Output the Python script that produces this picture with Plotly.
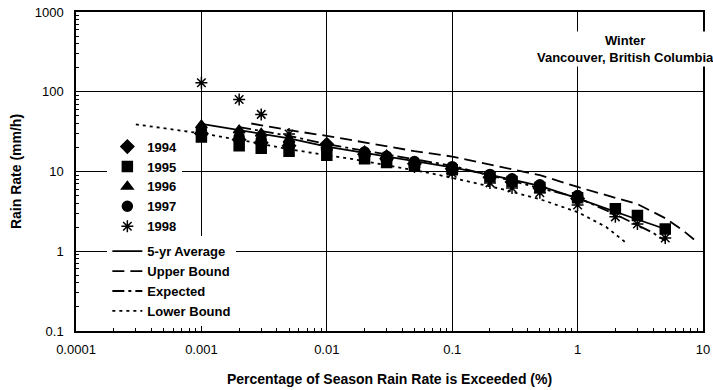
import plotly.graph_objects as go

# percentage of season exceeded (%)
pct = [0.001, 0.002, 0.003, 0.005, 0.01, 0.02, 0.03, 0.05, 0.1, 0.2, 0.3, 0.5, 1, 2, 3, 5]

# yearly rain rates (mm/h)
y1994 = [30, 25, 23, 21, 22, 16.5, 14.5, 12.5, 10.8, 8.5, 7.4, 6.2, 4.6]
y1995 = [27, 21, 19.5, 18, 16, 14.5, 13, 11.8, 10.5, 8.6, 7.5, 6.3, 4.7, 3.4, 2.8, 1.9]
y1996 = [38, 33, 30, 25, 21, 18, 16, 13, 11, 8.8, 7.8, 6.4, 4.8]
y1997 = [33, 27, 25, 22, 19, 17.5, 15.5, 13.3, 11.5, 9.2, 8.1, 6.8, 5.0]
y1998 = [130, 80, 52, 29.6, 18.6, 15.4, 13.7, 11.4, 9.5, 7.2, 6.2, 5.4, 3.8, 2.7, 2.2, 1.47]

avg = [39.5, 33, 29.5, 26, 20.5, 17.1, 15.3, 13.5, 11.3, 9.1, 7.9, 6.6, 4.6, 3.1, 2.5, 1.9]

upper_x = [0.0025, 0.005, 0.01, 0.03, 0.05, 0.1, 0.5, 1, 3, 5, 7, 9]
upper = [40, 33, 28, 21, 18, 15.4, 9, 6.4, 3.9, 2.6, 1.8, 1.3]

expected_x = [0.002, 0.005, 0.01, 0.1, 1, 2, 4, 5]
expected = [36, 28, 22, 11.8, 4.7, 2.9, 1.7, 1.35]

lower_x = [0.0003, 0.0005, 0.001, 0.002, 0.005, 0.0156, 0.035, 0.07, 0.12, 0.24, 0.5, 1, 1.7, 2.4]
lower = [39, 35, 30, 25, 19, 14.4, 11.4, 9.4, 7.8, 6.1, 4.5, 3.1, 2.0, 1.3]

font = "Liberation Sans, Arial, sans-serif"

fig = go.Figure()

years = [("1994", y1994, "diamond"), ("1995", y1995, "square"), ("1996", y1996, "triangle-up"),
         ("1997", y1997, "circle"), ("1998", y1998, "asterisk-open")]
for name, vals, sym in years:
    fig.add_trace(go.Scatter(
        x=pct[:len(vals)], y=vals, mode="markers", name=name, legend="legend",
        marker=dict(symbol=sym, size=10, color="black", line=dict(color="black", width=1.5))
    ))

lines = [("5-yr Average", pct, avg, "solid"),
         ("Upper Bound", upper_x, upper, "12px,6px"),
         ("Expected", expected_x, expected, "12px,4px,3px,4px"),
         ("Lower Bound", lower_x, lower, "3px,4px")]
for name, xs, ys, dash in lines:
    fig.add_trace(go.Scatter(
        x=xs, y=ys, mode="lines", name=name, legend="legend2",
        line=dict(color="black", width=1.8, dash=dash)
    ))

axis_common = dict(
    type="log", showline=True, linecolor="black", linewidth=1.5, mirror=True,
    showgrid=True, gridcolor="black", gridwidth=1, automargin=False,
    ticks="inside", ticklen=5, tickcolor="black",
    minor=dict(ticks="inside", ticklen=3, tickcolor="black", showgrid=False, dtick="D1"),
    tickfont=dict(family=font, size=13, color="black"),
    zeroline=False,
)

fig.update_xaxes(
    range=[-4, 1],
    tickvals=[0.0001, 0.001, 0.01, 0.1, 1, 10],
    ticktext=["0.0001", "0.001", "0.01", "0.1", "1", "10"],
    ticklabelstandoff=6,
    title=dict(text="<b>Percentage of Season Rain Rate is Exceeded (%)</b>",
               font=dict(family=font, size=14, color="black"), standoff=18),
    **axis_common
)
fig.update_yaxes(
    range=[-1, 3],
    tickvals=[0.1, 1, 10, 100, 1000],
    ticktext=["0.1", "1", "10", "100", "1000"],
    ticklabelstandoff=8,
    title=dict(text="<b>Rain Rate (mm/h)</b>",
               font=dict(family=font, size=14, color="black"), standoff=10),
    **axis_common
)

fig.add_annotation(
    x=0.876, y=0.94, xref="paper", yref="paper", xanchor="center", yanchor="top",
    text="<b>Winter</b><br><b>Vancouver, British Columbia</b>",
    showarrow=False, bgcolor="white", align="center",
    font=dict(family=font, size=13, color="black")
)

legend_style = dict(bgcolor="white", borderwidth=0, xanchor="left", yanchor="top",
                    font=dict(family=font, size=13, color="black", weight="bold"))
fig.update_layout(
    width=713, height=390,
    margin=dict(l=76, r=10, t=12, b=59),
    plot_bgcolor="white", paper_bgcolor="white",
    legend=dict(x=0.05, y=0.625, **legend_style),
    legend2=dict(x=0.05, y=0.297, **legend_style),
)

# drop the default page margin so the 713x390 figure fills the window
fig.write_html("out.html", config={"displayModeBar": False},
               post_script="document.body.style.margin='0';")
